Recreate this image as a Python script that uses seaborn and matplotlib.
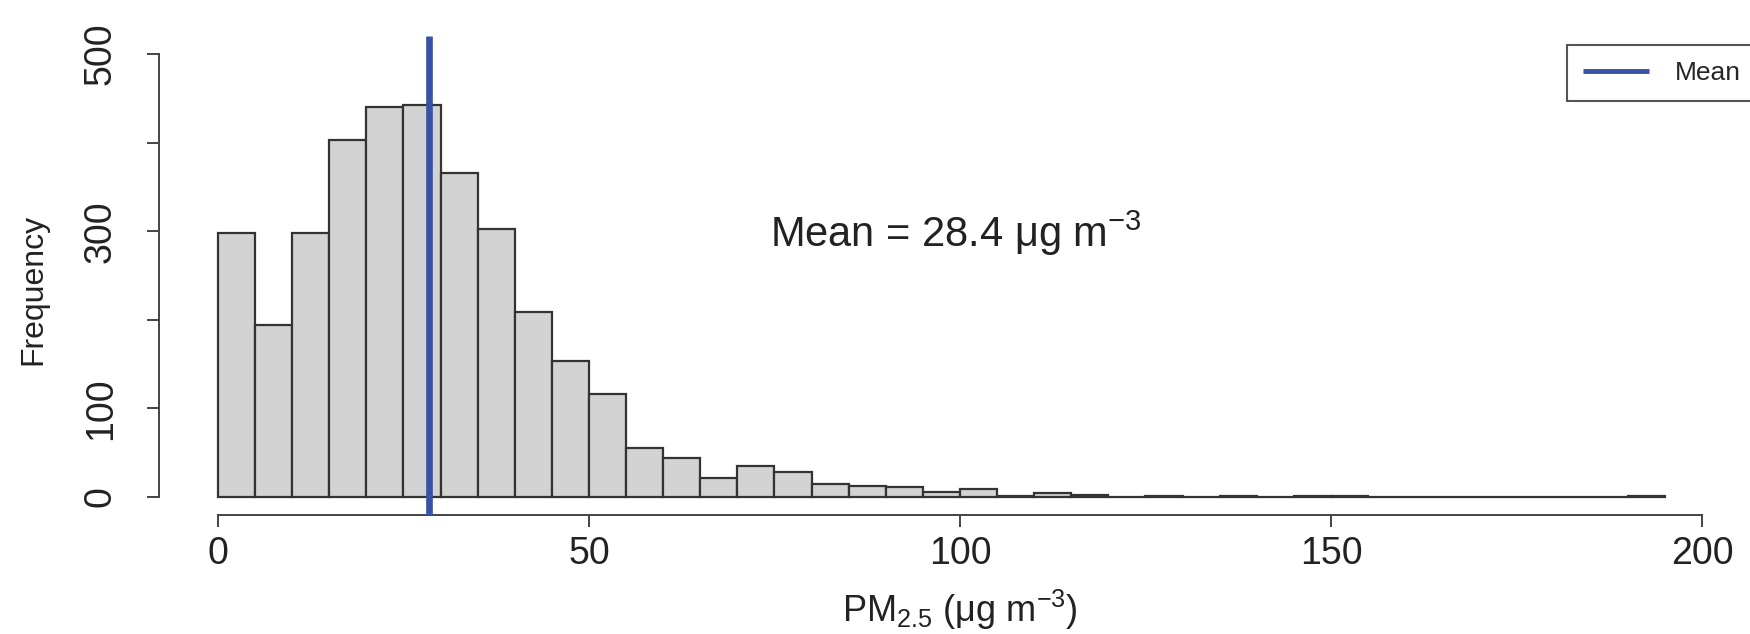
import numpy as np
import pandas as pd
import matplotlib
matplotlib.use('Agg')
import matplotlib.pyplot as plt
import seaborn as sns

# histogram bins (left edges, width 5) and counts
bin_start = [0, 5, 10, 15, 20, 25, 30, 35, 40, 45,
             50, 55, 60, 65, 70, 75, 80, 85, 90, 95,
             100, 105, 110, 115, 120, 125, 130, 135, 140, 145,
             150, 155, 160, 165, 170, 175, 180, 185, 190]
counts = [298, 194, 298, 403, 440, 443, 366, 302, 209, 154,
          116, 55, 44, 21, 35, 28, 15, 12, 11, 6,
          9, 1, 5, 2, 0, 1, 0, 1, 0, 1,
          1, 0, 0, 0, 0, 0, 0, 0, 1]
mean_pm = 28.4

x_ticks = [0, 50, 100, 150, 200]
y_ticks = [0, 100, 200, 300, 400, 500]
y_tick_labels = ['0', '100', '', '300', '', '500']

df = pd.DataFrame({'pm': np.array(bin_start) + 2.5, 'n': counts})

sns.set_style('white')
plt.rcParams['font.family'] = ['Liberation Sans', 'DejaVu Sans']
plt.rcParams['mathtext.fontset'] = 'custom'
plt.rcParams['mathtext.rm'] = 'Liberation Sans'
plt.rcParams['mathtext.it'] = 'Liberation Sans:italic'
plt.rcParams['mathtext.bf'] = 'Liberation Sans:bold'
plt.rcParams['mathtext.default'] = 'regular'

W, H = 1750, 634
fig = plt.figure(figsize=(W / 100, H / 100), dpi=100)
# plot region in pixels (R style, cropped on the right)
ax = fig.add_axes([158.6 / W, 1 - 514.7 / H, 1602.7 / W, 478.4 / H])

sns.histplot(data=df, x='pm', weights='n', binwidth=5, binrange=(0, 195),
             color='#d3d3d3', edgecolor='#333333', linewidth=1.6, alpha=1, ax=ax)

mean_line = ax.axvline(mean_pm, color='#3653a5', lw=4.8, solid_capstyle='butt', zorder=5)
ax.text(74.4, 282, f'Mean = {mean_pm} μg m$^{{-3}}$', fontsize=30, color='#222222',
        ha='left', va='baseline')

ax.set_xlim(-8, 208)
ax.set_ylim(-20, 520)
ax.set_xticks(x_ticks)
ax.set_yticks(y_ticks)
ax.set_yticklabels(y_tick_labels, rotation=90, va='center', ha='center')

ax.tick_params(axis='both', bottom=True, left=True, length=8.6, width=1.4,
               color='#444444', labelsize=27, labelcolor='#222222', direction='out')
ax.tick_params(axis='y', pad=33)
ax.tick_params(axis='x', pad=7)

for s in ['top', 'right']:
    ax.spines[s].set_visible(False)
ax.spines['left'].set_bounds(0, 500)
ax.spines['bottom'].set_bounds(0, 200)
for s in ['left', 'bottom']:
    ax.spines[s].set_linewidth(1.4)
    ax.spines[s].set_color('#444444')

ax.set_xlabel('PM$_{2.5}$ (μg m$^{-3}$)', fontsize=26, color='#222222')
ax.xaxis.set_label_coords(0.5, -0.224)
ax.xaxis.label.set_va('baseline')
ax.set_ylabel('Frequency', fontsize=23, color='#222222')
ax.yaxis.set_label_coords(-0.078, 0.47)
ax.yaxis.label.set_va('center')

leg = ax.legend(handles=[mean_line], labels=['Mean'], loc='upper left',
                bbox_to_anchor=(1567 / W, 1 - 45 / H), bbox_transform=fig.transFigure,
                fontsize=19, frameon=True, fancybox=False, borderaxespad=0,
                borderpad=0.6, handlelength=2.5, handletextpad=1.0,
                edgecolor='#555555', framealpha=1)
leg.get_frame().set_linewidth(1.5)
leg.get_lines()[0].set_linewidth(3.5)

fig.savefig('out.png', dpi=100)
